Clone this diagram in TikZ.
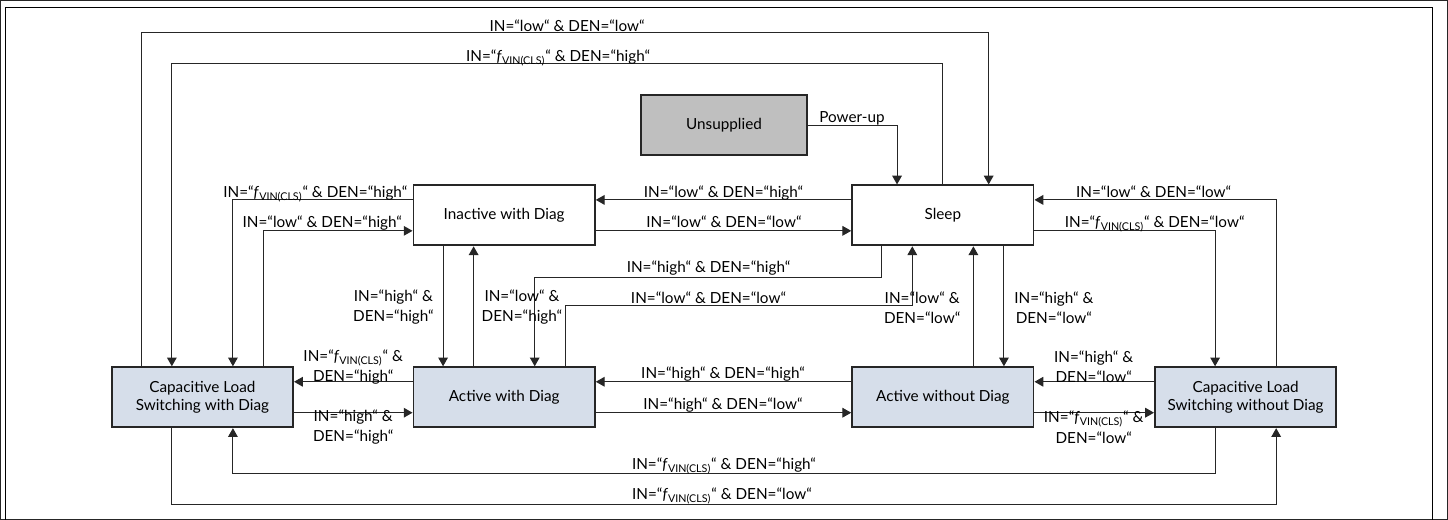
\documentclass[tikz,border=0pt]{standalone}
\usepackage{fontspec}
\setmainfont{Lato}
\usetikzlibrary{calc,arrows.meta}

\definecolor{stfill}{HTML}{D6DEEA}
\definecolor{upfill}{HTML}{BFBFBF}
\newcommand{\fvin}{\textit{f}\textsubscript{VIN(CLS)}}

\tikzset{
  statebox/.style={draw, line width=1.1pt, fill=stfill, minimum width=3.63cm,
    minimum height=1.2cm, inner sep=0pt, align=center,
    font=\fontsize{8.7}{10.6}\selectfont},
  lbl/.style={inner sep=0pt, align=center, font=\fontsize{8.7}{11.4}\selectfont},
}

\begin{document}
\begin{tikzpicture}[x=0.02cm, y=-0.02cm, >={Triangle[length=5pt,width=5.5pt]},
    every path/.style={line width=0.6pt, draw=black!85}]
        \useasboundingbox (0,0) rectangle (1448,519);
        \draw[line width=0.5pt, black] (5,522) |- (1433,7) -- (1433,522);

        \node[statebox, fill=upfill, minimum width=3.33cm](unsup) at (724,125) {Unsupplied};
        \node[statebox, fill=white](inact) at (504,215) {Inactive with Diag};
        \node[statebox, fill=white](sleep) at (943,215) {Sleep};
        \node[statebox](cls0) at (202,397) {Capacitive Load\\Switching with Diag};
        \node[statebox](act0) at (504,397) {Active with Diag};
        \node[statebox](act1) at (943,397) {Active without Diag};
        \node[statebox](cls1) at (1246,397) {Capacitive Load\\Switching without Diag};

        % upper loops
        \draw[->] ($(cls0.north west)!1/6!(cls0.north east)$) -- ++(0,-334) -| ($(sleep.north west)!3/4!(sleep.north east)$);
        \draw[->] (sleep.north) -- ++(0,-121) -| ($(cls0.north west)!1/3!(cls0.north east)$);
        \draw[->] (unsup.east) -| ($(sleep.north west)!1/4!(sleep.north east)$);
        \draw[->] ($(inact.north west)!1/4!(inact.south west)$) -| ($(cls0.north west)!2/3!(cls0.north east)$);
        \draw[->] ($(cls0.north west)!5/6!(cls0.north east)$) |- ($(inact.north west)!3/4!(inact.south west)$);
        \draw[->] ($(sleep.north west)!1/4!(sleep.south west)$) -- ($(inact.north east)!1/4!(inact.south east)$);
        \draw[->] ($(inact.north east)!3/4!(inact.south east)$) -- ($(sleep.north west)!3/4!(sleep.south west)$);
        \draw[->] ($(cls1.north west)!2/3!(cls1.north east)$) |- ($(sleep.north east)!1/4!(sleep.south east)$);
        \draw[->] ($(sleep.north east)!3/4!(sleep.south east)$) -| ($(cls1.north west)!1/3!(cls1.north east)$);

        % between the rows
        \draw[->] ($(inact.south west)!1/6!(inact.south east)$) -- ($(act0.north west)!1/6!(act0.north east)$);
        \draw[->] ($(act0.north west)!1/3!(act0.north east)$) -- ($(inact.south west)!1/3!(inact.south east)$);
        \draw[->] ($(sleep.south west)!1/6!(sleep.south east)$) -- ++(0,31) -| ($(act0.north west)!2/3!(act0.north east)$);
        \draw[->] ($(act0.north west)!5/6!(act0.north east)$) -- ++(0,-61) -| ($(sleep.south west)!1/3!(sleep.south east)$);
        \draw[->] ($(act1.north west)!2/3!(act1.north east)$) -- ($(sleep.south west)!2/3!(sleep.south east)$);
        \draw[->] ($(sleep.south west)!5/6!(sleep.south east)$) -- ($(act1.north west)!5/6!(act1.north east)$);

        % lower row
        \draw[->] ($(act0.north west)!1/4!(act0.south west)$) -- ($(cls0.north east)!1/4!(cls0.south east)$);
        \draw[->] ($(cls0.north east)!3/4!(cls0.south east)$) -- ($(act0.north west)!3/4!(act0.south west)$);
        \draw[->] ($(act1.north west)!1/4!(act1.south west)$) -- ($(act0.north east)!1/4!(act0.south east)$);
        \draw[->] ($(act0.north east)!3/4!(act0.south east)$) -- ($(act1.north west)!3/4!(act1.south west)$);
        \draw[->] ($(cls1.north west)!1/4!(cls1.south west)$) -- ($(act1.north east)!1/4!(act1.south east)$);
        \draw[->] ($(act1.north east)!3/4!(act1.south east)$) -- ($(cls1.north west)!3/4!(cls1.south west)$);
        \draw[->] ($(cls1.south west)!1/3!(cls1.south east)$) -- ++(0,45) -| ($(cls0.south west)!2/3!(cls0.south east)$);
        \draw[->] ($(cls0.south west)!1/3!(cls0.south east)$) -- ++(0,76) -| ($(cls1.south west)!2/3!(cls1.south east)$);

        \node[lbl, anchor=base](t1) at (567,30.5) {IN=“low“ \& DEN=“low“};
        \node[lbl, anchor=base](t2) at (558,61.5) {IN=“\fvin“ \& DEN=“high“};
        \node[lbl, anchor=base](t3) at (852,122) {Power-up};
        \node[lbl, anchor=base](t4) at (315,197.5) {IN=“\fvin“ \& DEN=“high“};
        \node[lbl, anchor=base](t5) at (322,227.5) {IN=“low“ \& DEN=“high“};
        \node[lbl, anchor=base](t6) at (723.5,197.5) {IN=“low“ \& DEN=“high“};
        \node[lbl, anchor=base](t7) at (724,227.5) {IN=“low“ \& DEN=“low“};
        \node[lbl, anchor=base](t8) at (1154,197.5) {IN=“low“ \& DEN=“low“};
        \node[lbl, anchor=base](t9) at (1155,227.5) {IN=“\fvin“ \& DEN=“low“};
        \node[lbl, anchor=east](t10) at (434,307) {IN=“high“ \&\\DEN=“high“};
        \node[lbl, anchor=west](t11) at (481,307) {IN=“low“ \&\\DEN=“high“};
        \node[lbl, anchor=base](t12) at (708.5,272.5) {IN=“high“ \& DEN=“high“};
        \node[lbl, anchor=base](t13) at (708.5,303) {IN=“low“ \& DEN=“low“};
        \node[lbl, anchor=east](t14) at (961,307) {IN=“low“ \&\\DEN=“low“};
        \node[lbl, anchor=west](t15) at (1014,307) {IN=“high“ \&\\DEN=“low“};
        \node[lbl](t16) at (353,366.5) {IN=“\fvin“ \&\\DEN=“high“};
        \node[lbl](t17) at (353,427) {IN=“high“ \&\\DEN=“high“};
        \node[lbl, anchor=base](t18) at (723,378.5) {IN=“high“ \& DEN=“high“};
        \node[lbl, anchor=base](t19) at (723,409) {IN=“high“ \& DEN=“low“};
        \node[lbl](t20) at (1094,366) {IN=“high“ \&\\DEN=“low“};
        \node[lbl](t21) at (1094,427) {IN=“\fvin“ \&\\DEN=“low“};
        \node[lbl, anchor=base](t22) at (724,469) {IN=“\fvin“ \& DEN=“high“};
        \node[lbl, anchor=base](t23) at (722,499.5) {IN=“\fvin“ \& DEN=“low“};
    \end{tikzpicture}
\end{document}
